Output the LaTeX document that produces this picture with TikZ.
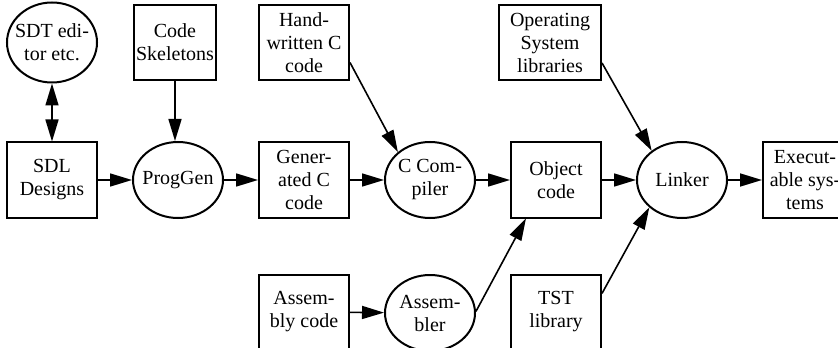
\documentclass[tikz,border=0pt]{standalone}
\usepackage{fontspec}
\setmainfont{Liberation Serif}
\usetikzlibrary{arrows.meta, positioning, shapes.geometric}

\begin{document}
\begin{tikzpicture}[
        node distance=30pt and 17pt,
        font=\fontsize{10}{11.5}\selectfont,
        box/.style={rectangle, draw, line width=1pt, minimum width=45pt, minimum height=37.5pt, inner sep=1pt, align=center},
        tool/.style={ellipse, draw, line width=1pt, minimum width=45pt, minimum height=38pt, inner xsep=-3pt, inner ysep=0pt, align=center},
        flow/.style={-{Triangle[length=11pt, width=6.5pt]}, line width=0.8pt},
        both/.style={{Triangle[length=11pt, width=6.5pt]}-{Triangle[length=11pt, width=6.5pt]}, line width=0.8pt}
    ]
        \useasboundingbox (0,0) rectangle (419pt,-173.5pt);

        \node[box] (sdl) at (26pt,-90pt) {SDL\\Designs};
        \node[tool, right=of sdl] (proggen) {ProgGen};
        \node[box, right=of proggen] (gen) {Gener-\\ated C\\code};
        \node[tool, right=of gen] (ccomp) {C Com-\\piler};
        \node[box, right=of ccomp] (obj) {Object\\code};
        \node[tool, right=of obj] (linker) {Linker};
        \node[box, minimum width=42pt, right=of linker] (exec) {Execut-\\able sys-\\tems};

        \node[tool, minimum height=40pt, above=29pt of sdl] (sdt) {SDT edi-\\tor etc.};
        \node[box, minimum width=40pt, xshift=-1.5pt, above=of proggen] (skel) {Code\\Skeletons};
        \node[box, above=of gen] (hand) {Hand-\\written C\\code};
        \node[box, minimum width=51pt, xshift=-3pt, above=of obj] (os) {Operating\\System\\libraries};

        \node[box, below=27.5pt of gen] (asmcode) {Assem-\\bly code};
        \node[tool, below=27.5pt of ccomp] (asm) {Assem-\\bler};
        \node[box, below=27.5pt of obj] (tst) {TST\\library};

        \draw[flow] (sdl) -- (proggen);
        \draw[flow] (proggen) -- (gen);
        \draw[flow] (gen) -- (ccomp);
        \draw[flow] (ccomp) -- (obj);
        \draw[flow] (obj) -- (linker);
        \draw[flow] (linker) -- (exec);
        \draw[both] (sdt) -- (sdl);
        \draw[flow] (skel) -- (skel |- proggen.north);
        \draw[flow] (hand.-23) -- (ccomp.139);
        \draw[flow] (os.-21) -- (linker.136);
        \draw[flow] (asmcode) -- (asm);
        \draw[flow] (asm.2) -- (obj.232);
        \draw[flow] (tst.22) -- (linker.220);

    \end{tikzpicture}
\end{document}
